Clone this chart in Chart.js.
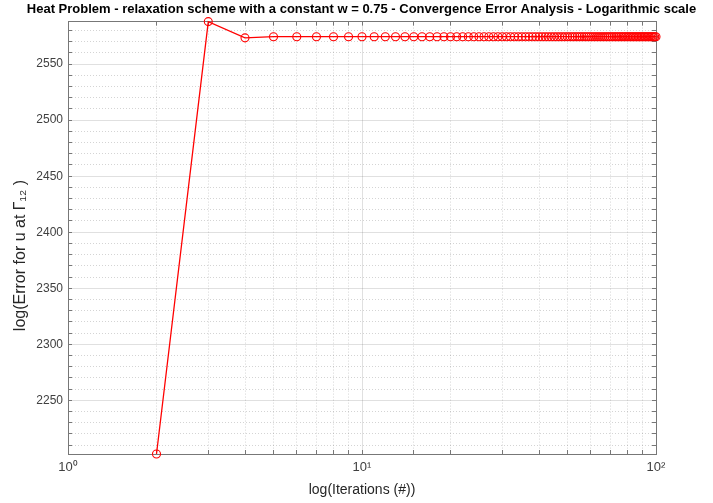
<!DOCTYPE html>
<html>
<head>
<meta charset="utf-8">
<script src="https://cdn.jsdelivr.net/npm/chart.js@4.4.1/dist/chart.umd.min.js"></script>
<style>
  html, body { margin: 0; padding: 0; background: #fff; }
  #grafica { width: 713px; height: 503px; }
</style>
</head>
<body>
<div id="grafica"><canvas id="myChart"></canvas></div>
<script>
// iteraciones (eje x, escala log)
var iteraciones = [
    2, 3, 4, 5, 6, 7, 8, 9, 10, 11, 12, 13, 14, 15, 16, 17, 18, 19, 20,
    21, 22, 23, 24, 25, 26, 27, 28, 29, 30, 31, 32, 33, 34, 35, 36, 37, 38, 39, 40,
    41, 42, 43, 44, 45, 46, 47, 48, 49, 50, 51, 52, 53, 54, 55, 56, 57, 58, 59, 60,
    61, 62, 63, 64, 65, 66, 67, 68, 69, 70, 71, 72, 73, 74, 75, 76, 77, 78, 79, 80,
    81, 82, 83, 84, 85, 86, 87, 88, 89, 90, 91, 92, 93, 94, 95, 96, 97, 98, 99, 100
]
// error en Gamma_12 por iteracion
var errores = [
    2202, 2588, 2573.5, 2574.5, 2574.5, 2574.5, 2574.5, 2574.5, 2574.5, 2574.5, 2574.5, 2574.5, 2574.5, 2574.5, 2574.5, 2574.5, 2574.5, 2574.5, 2574.5,
    2574.5, 2574.5, 2574.5, 2574.5, 2574.5, 2574.5, 2574.5, 2574.5, 2574.5, 2574.5, 2574.5, 2574.5, 2574.5, 2574.5, 2574.5, 2574.5, 2574.5, 2574.5, 2574.5, 2574.5,
    2574.5, 2574.5, 2574.5, 2574.5, 2574.5, 2574.5, 2574.5, 2574.5, 2574.5, 2574.5, 2574.5, 2574.5, 2574.5, 2574.5, 2574.5, 2574.5, 2574.5, 2574.5, 2574.5, 2574.5,
    2574.5, 2574.5, 2574.5, 2574.5, 2574.5, 2574.5, 2574.5, 2574.5, 2574.5, 2574.5, 2574.5, 2574.5, 2574.5, 2574.5, 2574.5, 2574.5, 2574.5, 2574.5, 2574.5, 2574.5,
    2574.5, 2574.5, 2574.5, 2574.5, 2574.5, 2574.5, 2574.5, 2574.5, 2574.5, 2574.5, 2574.5, 2574.5, 2574.5, 2574.5, 2574.5, 2574.5, 2574.5, 2574.5, 2574.5, 2574.5
]
var etiquetas_y = [2250, 2300, 2350, 2400, 2450, 2500, 2550]
var etiquetas_x = { 1: '10\u2070', 10: '10\u00b9', 100: '10\u00b2' }
var y_min = 2202
var y_max = 2588
var paso_menor = 10

var fuente = "'Liberation Sans', Arial, Helvetica, sans-serif"
var gris_ejes = '#777777'

function esMayorX(v) { return etiquetas_x[v] !== undefined }
function esMayorY(v) { return etiquetas_y.indexOf(v) >= 0 }

function ticksY(scale) {
    var t = []
    for (var v = 2210; v <= 2580; v += paso_menor) t.push({ value: v })
    scale.ticks = t
}

function rejilla(esMayor) {
    return {
        color: function (ctx) {
            if (!ctx.tick) return 'rgba(0,0,0,0)'
            return esMayor(ctx.tick.value) ? 'rgba(0,0,0,0.12)' : 'rgba(0,0,0,0.17)'
        },
        tickColor: gris_ejes,
        tickLength: -4,
        lineWidth: 1
    }
}
function borde(esMayor) {
    return {
        color: gris_ejes,
        width: 1,
        dash: function (ctx) {
            if (!ctx.tick) return []
            return esMayor(ctx.tick.value) ? [] : [1, 2]
        }
    }
}

var ctx = document.getElementById('myChart').getContext('2d')
new Chart(ctx, {
    type: 'line',
    data: {
        datasets: [{
            data: iteraciones.map(function (it, i) { return { x: it, y: errores[i] } }),
            borderColor: '#ff0000',
            borderWidth: 1.3,
            pointStyle: 'circle',
            pointRadius: 4,
            pointBorderColor: '#ff0000',
            pointBackgroundColor: 'rgba(0,0,0,0)',
            pointBorderWidth: 1.1,
            pointHoverRadius: 4,
            tension: 0,
            clip: false
        }]
    },
    options: {
        responsive: true,
        maintainAspectRatio: false,
        animation: false,
        events: [],
        layout: { padding: { left: 10, right: 0, top: 0, bottom: 0 } },
        plugins: {
            legend: { display: false },
            tooltip: { enabled: false },
            title: {
                display: true,
                text: 'Heat Problem - relaxation scheme with a constant w = 0.75 - Convergence Error Analysis - Logarithmic scale',
                color: '#000',
                font: { family: fuente, size: 13, weight: 'bold' },
                padding: { top: 2, bottom: 4 }
            }
        },
        scales: {
            x: {
                type: 'logarithmic',
                position: 'bottom',
                min: 1,
                max: 100,
                grid: rejilla(esMayorX),
                border: borde(esMayorX),
                ticks: {
                    autoSkip: false,
                    maxRotation: 0,
                    padding: 10,
                    color: '#404040',
                    font: { family: fuente, size: 13 },
                    callback: function (v) { return etiquetas_x[v] || '' }
                },
                title: {
                    display: true,
                    text: 'log(Iterations (#))',
                    color: '#262626',
                    font: { family: fuente, size: 14 },
                    padding: { top: 0, bottom: 4 }
                },
                afterFit: function (s) { s.height = 49 }
            },
            x2: {
                type: 'logarithmic',
                position: 'top',
                min: 1,
                max: 100,
                grid: { drawOnChartArea: false, tickColor: gris_ejes, tickLength: -4 },
                border: { color: gris_ejes, width: 1 },
                ticks: { display: false, autoSkip: false },
                afterFit: function (s) { s.height = 0 }
            },
            y: {
                type: 'linear',
                position: 'left',
                min: y_min,
                max: y_max,
                afterBuildTicks: ticksY,
                grid: rejilla(esMayorY),
                border: borde(esMayorY),
                ticks: {
                    autoSkip: false,
                    padding: 9,
                    color: '#404040',
                    font: { family: fuente, size: 12 },
                    callback: function (v) { return esMayorY(v) ? String(v) : '' }
                },
                title: {
                    display: true,
                    text: 'log(Error for u at \u0393\u2081\u2082 )        ',
                    color: '#262626',
                    font: { family: fuente, size: 16 },
                    padding: { top: 1, bottom: 0 }
                },
                afterFit: function (s) { s.width = 58 }
            },
            y2: {
                type: 'linear',
                position: 'right',
                min: y_min,
                max: y_max,
                afterBuildTicks: ticksY,
                grid: { drawOnChartArea: false, tickColor: gris_ejes, tickLength: -4 },
                border: { color: gris_ejes, width: 1 },
                ticks: { display: false, autoSkip: false },
                afterFit: function (s) { s.width = 57 }
            }
        }
    }
})
</script>
</body>
</html>
